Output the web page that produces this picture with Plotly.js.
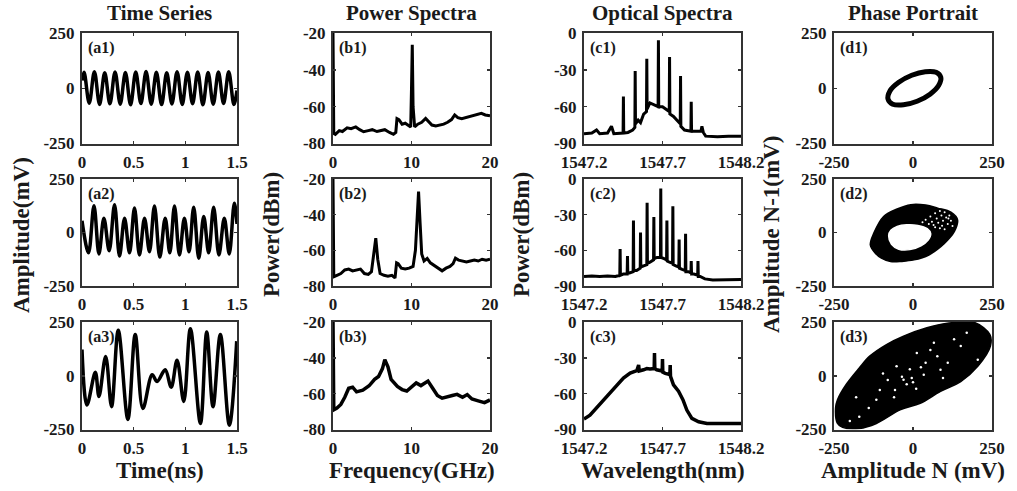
<!DOCTYPE html>
<html><head><meta charset="utf-8">
<script src="https://cdn.plot.ly/plotly-3.0.1.min.js"></script>
<style>html,body{margin:0;padding:0;background:#fff}#g{width:1017px;height:491px}</style>
</head><body><div id="g"></div>
<script>
// ---------- Time series (ns, mV) ----------
const a1T = [0,0.02,0.07,0.12,0.17,0.22,0.27,0.32,0.37,0.42,0.47,0.52,0.57,0.62,0.67,0.72,0.77,0.82,0.87,0.92,0.97,1.02,1.07,1.12,1.17,1.22,1.27,1.32,1.37,1.42,1.47,1.5];
const a1V = [35,72,-68,75,-73,70,-70,74,-72,71,-75,73,-69,76,-72,72,-74,70,-71,75,-73,72,-70,74,-75,71,-72,73,-69,75,-73,-10];
const a2T = [0,0.063,0.116,0.164,0.212,0.263,0.315,0.363,0.412,0.46,0.508,0.556,0.605,0.653,0.701,0.753,0.805,0.85,0.895,0.943,0.991,1.036,1.081,1.13,1.178,1.226,1.274,1.325,1.377,1.425,1.474,1.5];
const a2V = [55,-95,125,-100,67,-85,130,-110,67,-95,114,-105,67,-90,124,-115,67,-95,124,-105,67,-90,118,-120,75,-95,118,-105,67,-100,137,40];
const a3T = [0,0.048,0.129,0.164,0.229,0.286,0.351,0.444,0.515,0.589,0.679,0.727,0.805,0.863,0.920,0.985,1.049,1.146,1.207,1.268,1.339,1.426,1.497];
const a3V = [122,-136,16,-97,90,-144,212,-203,192,-152,5,-27,28,-53,72,-120,219,-222,203,-144,192,-230,161];

// ---------- Power spectra (GHz, dBm) ----------
const b1F = [0,0.1,0.3,0.8,1.2,1.8,2.3,2.9,3.4,3.9,4.5,5.0,5.6,6.1,6.6,7.2,7.7,8.0,8.15,8.4,8.8,9.2,9.6,9.9,10.0,10.1,10.2,10.4,10.8,11.3,11.8,12.2,12.6,13.1,13.6,14.1,14.6,15.1,15.5,15.9,16.4,16.9,17.4,17.9,18.4,18.9,19.4,20];
const b1P = [-20,-74.5,-75,-73,-73.5,-71.5,-72,-71,-72.5,-73.6,-73,-72.5,-73.5,-73,-72.5,-74,-75,-74,-66.5,-67,-69.5,-69,-70,-71,-50,-26.4,-60,-71,-69.5,-68.5,-66.4,-68,-70,-70.5,-70,-69.5,-68.5,-67,-64.5,-66,-66.5,-66,-65.5,-65,-64.5,-63.6,-64.5,-65];
const b2F = [0,0.1,0.5,1.0,1.5,2.0,2.5,3.0,3.5,4.0,4.5,4.9,5.2,5.45,5.7,6.0,6.5,7.0,7.5,7.9,8.1,8.3,8.7,9.2,9.7,10.2,10.5,10.7,10.9,11.1,11.3,11.6,12.0,12.4,12.9,13.4,13.9,14.4,14.9,15.3,15.6,16.0,16.5,17.0,17.5,18.0,18.5,19.0,19.5,20];
const b2P = [-20,-74.8,-74,-73,-71,-70.5,-71.5,-71,-70.5,-73,-73.5,-72,-62,-53.2,-65,-73,-74,-74.5,-74,-75.5,-67,-67.5,-70,-70.5,-70,-69,-60,-40,-27,-45,-62,-66,-64.5,-67,-68.5,-70,-71.5,-70,-69,-67.5,-64.4,-65.5,-66,-66.5,-66,-65.5,-66,-65,-65.5,-65];
const b3F = [0,0.1,0.5,1.0,1.5,2.0,2.5,3.0,3.8,4.6,5.3,5.8,6.3,6.6,7.0,7.4,8.2,8.8,9.4,10.0,10.6,11.2,12.1,12.7,13.3,13.9,14.5,15.2,15.8,16.5,17.1,17.7,18.5,19.3,20];
const b3P = [-20,-69,-68,-66,-62,-57,-56.4,-59,-58,-55.6,-52,-50.4,-46,-41,-45,-52,-56,-57.7,-58.5,-56.5,-54,-55.5,-53,-57,-61,-62.5,-62,-61,-60.4,-62,-60.5,-63,-64,-65,-63.5];

// ---------- Optical spectra (nm, dBm) ----------
const c1L = [1547.20,1547.25,1547.28,1547.30,1547.35,1547.375,1547.39,1547.44,1547.449,1547.451,1547.453,1547.48,1547.51,1547.524,1547.526,1547.528,1547.545,1547.56,1547.58,1547.598,1547.600,1547.602,1547.62,1547.64,1547.66,1547.672,1547.674,1547.676,1547.70,1547.72,1547.735,1547.743,1547.745,1547.747,1547.77,1547.80,1547.813,1547.815,1547.817,1547.84,1547.87,1547.881,1547.883,1547.885,1547.92,1547.945,1547.951,1547.96,1547.975,1548.05,1548.12,1548.2];
const c1P = [-82,-81.5,-79,-82,-81.5,-76,-82,-82,-81.5,-51.8,-81.5,-81,-79,-77,-31,-74,-71,-73,-66,-64,-21,-62,-57,-58,-59,-60,-6,-60,-60,-62,-63,-64,-19.6,-66,-68,-72,-74,-35,-76,-79,-80,-80,-56,-80,-80,-80,-76,-81,-84,-84.5,-84,-84];
const c2L = [1547.20,1547.25,1547.30,1547.35,1547.40,1547.428,1547.430,1547.432,1547.45,1547.475,1547.477,1547.479,1547.49,1547.513,1547.515,1547.517,1547.535,1547.558,1547.560,1547.562,1547.58,1547.600,1547.602,1547.604,1547.62,1547.643,1547.645,1547.647,1547.665,1547.687,1547.689,1547.691,1547.71,1547.726,1547.728,1547.730,1547.745,1547.764,1547.766,1547.768,1547.785,1547.804,1547.806,1547.808,1547.825,1547.845,1547.847,1547.849,1547.865,1547.881,1547.883,1547.885,1547.90,1547.924,1547.926,1547.928,1547.94,1547.97,1548.02,1548.10,1548.2];
const c2P = [-82,-81.5,-82,-81.5,-82,-81,-59,-81,-80,-80,-64.7,-79,-79,-78,-35,-77,-77,-75,-45,-74,-73,-72,-20,-71,-70,-68,-32,-67,-66,-66,-7.9,-66,-67,-68,-35,-69,-70,-71,-23,-72,-73,-74,-51,-75,-76,-77,-46,-78,-78,-79,-69,-80,-80,-81,-69,-82,-82,-84,-85,-85,-84.5];
const c3L = [1547.20,1547.206,1547.238,1547.28,1547.323,1547.366,1547.409,1547.451,1547.494,1547.536,1547.548,1547.552,1547.579,1547.60,1547.62,1547.647,1547.649,1547.651,1547.663,1547.698,1547.700,1547.702,1547.717,1547.747,1547.749,1547.751,1547.770,1547.802,1547.830,1547.855,1547.887,1547.930,1547.983,1548.2];
const c3P = [-81,-80.7,-78,-72,-65,-59,-53.4,-47,-42.8,-40.8,-36,-41,-40,-39,-39.4,-39,-26,-39,-40,-41,-31,-42,-43,-44,-36,-45.5,-52.6,-58,-65,-73.7,-80.7,-83.5,-85,-85];

// ---------- Phase portraits (mV, mV) ----------
const d1X = [73,39,-4,-45,-73,-79,-64,-30,13,54,81,88,73];
const d1Y = [72,75,59,27,-12,-49,-72,-75,-59,-27,12,49,72];
const d2OutX = [-135,-124,-93,-50,-7,40,78,120,141,131,110,88,50,3,-35,-71,-100,-119,-135];
const d2OutY = [-58,-3,75,110,130,128,114,95,59,5,-35,-66,-105,-128,-135,-136,-120,-97,-58];
const d2InX = [-77,-70,-50,-20,15,45,56,48,25,-10,-45,-68,-77];
const d2InY = [-15,10,28,36,33,18,-5,-35,-62,-80,-78,-55,-15];
const d2SpeckX = [40,55,70,85,100,115,60,75,90,105,120,50,65,80,95,110,125,85,100,70,30,92,112];
const d2SpeckY = [60,75,90,100,95,80,50,65,80,70,55,40,35,45,55,40,30,20,15,25,48,32,66];
const d3OutX = [-239,-245,-239,-212,-170,-137,-84,-30,44,109,194,243,245,205,151,87,23,-41,-116,-170,-223,-239];
const d3OutY = [-222,-150,-112,-42,36,91,145,184,223,244,248,192,138,44,-27,-73,-128,-159,-222,-245,-240,-222];
const d3SpeckX = [-30,-57,-4,34,77,66,87,-116,-170,12,-52,-105,151,205,-20,40,-80,-140,-200,-60,10,110,170,-10,55,130,-35,-95,25,95,-180,0];
const d3SpeckY = [-19,-66,-11,5,91,153,28,-112,-191,106,44,-66,138,75,-40,60,-20,-150,-210,-100,-60,60,200,30,120,170,-5,10,40,-10,-100,-30];

// ---------- Axes ----------
const colDomX = [[82/1017,237/1017],[333/1017,490/1017],[584/1017,741/1017],[834/1017,992/1017]];
const rowDomY = [[1-143.5/491,1-33/491],[1-286/491,1-179/491],[1-429.5/491,1-322/491]];
const colXRange = [[0,1.5],[0,20],[1547.2,1548.2],[-250,250]];
const colYRange = [[-250,250],[-80,-20],[-90,0],[-250,250]];
const colXTicks = [[0,0.5,1,1.5],[0,10,20],[1547.2,1547.7,1548.2],[-250,0,250]];
const colXText = [['0','0.5','1','1.5'],['0','10','20'],['1547.2','1547.7','1548.2'],['-250','0','250']];
const colYTicks = [[-250,0,250],[-80,-60,-40,-20],[-90,-60,-30,0],[-250,0,250]];
const colTitles = ['Time Series','Power Spectra','Optical Spectra','Phase Portrait'];
const colXTitles = ['Time(ns)','Frequency(GHz)','Wavelength(nm)','Amplitude N (mV)'];
const colYTitles = ['Amplitude(mV)','Power(dBm)','Power(dBm)','Amplitude N-1(mV)'];
const panelLabels = [['(a1)','(b1)','(c1)','(d1)'],['(a2)','(b2)','(c2)','(d2)'],['(a3)','(b3)','(c3)','(d3)']];

const FONT = 'Liberation Serif, Times New Roman, serif';
const tickFont = {family: FONT, size: 17, color: '#1a1a1a', weight: 'bold'};

const layout = {
  width: 1017, height: 491, margin: {l:0,r:0,t:0,b:0},
  paper_bgcolor: '#fff', plot_bgcolor: '#fff', showlegend: false,
  annotations: [], font: {family: FONT}
};
function axBase(){
  return {showline:true, mirror:'ticks', linecolor:'#333', linewidth:2,
    ticks:'inside', ticklen:3, tickwidth:1.5, tickcolor:'#333',
    showgrid:false, zeroline:false, tickfont: tickFont, fixedrange:true, ticklabelstandoff: 2};
}
for (let r=0;r<3;r++){
  for (let c=0;c<4;c++){
    const n = r*4+c+1;
    const s = (n===1?'':String(n));
    const xa = axBase(), ya = axBase();
    xa.domain = colDomX[c]; xa.range = colXRange[c]; xa.tickvals = colXTicks[c]; xa.ticktext = colXText[c];
    xa.anchor = 'y'+s;
    ya.domain = rowDomY[r]; ya.range = colYRange[c]; ya.tickvals = colYTicks[c]; ya.ticktext = colYTicks[c].map(String);
    ya.anchor = 'x'+s;
    layout['xaxis'+s] = xa;
    layout['yaxis'+s] = ya;
    layout.annotations.push({xref:'x'+s+' domain', yref:'y'+s+' domain',
      x:0.025, y:0.965, xanchor:'left', yanchor:'top', showarrow:false, text: panelLabels[r][c],
      font:{family:FONT, size:16, color:'#1a1a1a', weight:'bold'}});
  }
}
const colCenters = colDomX.map(d => (d[0]+d[1])/2);
const yTitleX = [22/1017, 272/1017, 522/1017, 772/1017];
for (let c=0;c<4;c++){
  layout.annotations.push({xref:'paper', yref:'paper', x:colCenters[c], y:1-13/491, xanchor:'center', yanchor:'middle',
    showarrow:false, text: colTitles[c], font:{family:FONT, size:21, color:'#1a1a1a', weight:'bold'}});
  layout.annotations.push({xref:'paper', yref:'paper', x:colCenters[c], y:1-470/491, xanchor:'center', yanchor:'middle',
    showarrow:false, text: colXTitles[c], font:{family:FONT, size:23, color:'#1a1a1a', weight:'bold'}});
  layout.annotations.push({xref:'paper', yref:'paper', x:yTitleX[c], y:1-235/491, xanchor:'center', yanchor:'middle',
    textangle:-90, showarrow:false, text: colYTitles[c], font:{family:FONT, size:23, color:'#1a1a1a', weight:'bold'}});
}

function ids(n){ return {xaxis:'x'+(n===1?'':n), yaxis:'y'+(n===1?'':n)}; }
function line(n, x, y, w, shape){
  return Object.assign({x, y, type:'scatter', mode:'lines', hoverinfo:'skip',
    line:{color:'#000', width:w, shape: shape||'linear'}}, ids(n));
}
function poly(n, x, y, color, shape){
  return Object.assign({x, y, type:'scatter', mode:'lines', fill:'toself', fillcolor:color, hoverinfo:'skip',
    line:{color:color, width:1.5, shape: shape||'linear'}}, ids(n));
}
function specks(n, x, y, size){
  return Object.assign({x, y, type:'scatter', mode:'markers', hoverinfo:'skip',
    marker:{color:'#fff', size:size}}, ids(n));
}
const traces = [
  line(1, a1T, a1V, 3.5, 'spline'),
  line(5, a2T, a2V, 3.5, 'spline'),
  line(9, a3T, a3V, 3.5, 'spline'),
  line(2, b1F, b1P, 3),
  line(6, b2F, b2P, 3),
  line(10, b3F, b3P, 3.5),
  line(3, c1L, c1P, 3),
  line(7, c2L, c2P, 3),
  line(11, c3L, c3P, 3.5),
  line(4, d1X, d1Y, 5, 'spline'),
  poly(8, d2OutX, d2OutY, '#000', 'spline'),
  poly(8, d2InX, d2InY, '#fff', 'spline'),
  specks(8, d2SpeckX, d2SpeckY, 2),
  poly(12, d3OutX, d3OutY, '#000', 'spline'),
  specks(12, d3SpeckX, d3SpeckY, 2.5)
];
Plotly.newPlot('g', traces, layout, {staticPlot:true, displayModeBar:false});
</script>
</body></html>
